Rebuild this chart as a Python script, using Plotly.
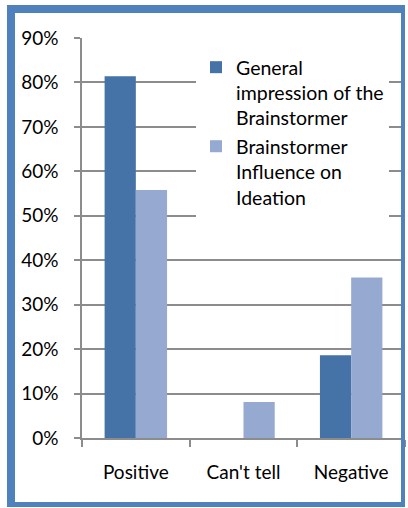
import plotly.graph_objects as go

categories = ["Positive", "Can't tell", "Negative"]
general_impression = [0.814, 0.0, 0.186]
influence_ideation = [0.558, 0.081, 0.361]
series_names = ["General<br>impression of the<br>Brainstormer",
                "Brainstormer<br>Influence on<br>Ideation"]
y_ticks = [0, 0.1, 0.2, 0.3, 0.4, 0.5, 0.6, 0.7, 0.8, 0.9]

W, H = 408, 508
L, R, T, B = 82, 3, 38, 70
PW, PH = W - L - R, H - T - B

def px(x):
    return (x - L) / PW

def py(y):
    return (H - B - y) / PH

FONT = "Lato"
GRID = "#8c8c8c"
BORDER = "#4f81bd"

fig = go.Figure()
fig.add_trace(go.Bar(x=categories, y=general_impression, name=series_names[0],
                     marker=dict(color="#4572a7", line=dict(width=0))))
fig.add_trace(go.Bar(x=categories, y=influence_ideation, name=series_names[1],
                     marker=dict(color="#95a9d1", line=dict(width=0))))

shapes = []
for (x0, y0, x1, y1) in [(7, 5, 15, 507), (7, 5, 405, 13), (401, 5, 405, 507), (7, 502, 405, 507)]:
    shapes.append(dict(type="rect", xref="paper", yref="paper",
                       x0=px(x0), x1=px(x1), y0=py(y0), y1=py(y1),
                       fillcolor=BORDER, line=dict(width=0), layer="above"))

fig.update_layout(
    width=W, height=H,
    margin=dict(l=L, r=R, t=T, b=B, pad=0),
    paper_bgcolor="white", plot_bgcolor="white",
    barmode="group", bargap=0.42, bargroupgap=0,
    font=dict(family=FONT, size=19, color="black"),
    showlegend=True,
    legend=dict(x=px(196), y=py(48), xanchor="left", yanchor="top",
                bgcolor="white", borderwidth=0, valign="top",
                font=dict(family=FONT, size=19.5, color="black"),
                tracegroupgap=0),
    shapes=shapes,
    xaxis=dict(type="category", tickson="boundaries", ticks="outside", ticklen=7,
               tickcolor=GRID, tickwidth=1.5, showline=True, linecolor=GRID,
               linewidth=1.5, showgrid=False, ticklabelstandoff=16,
               tickfont=dict(family=FONT, size=19, color="black")),
    yaxis=dict(range=[0, 0.9], tickvals=y_ticks, tickformat=".0%", ticks="outside",
               ticklen=6, tickcolor=GRID, tickwidth=1.5, showline=True,
               linecolor=GRID, linewidth=1.5, showgrid=True, gridcolor=GRID,
               gridwidth=1.5, zeroline=False, ticklabelstandoff=12,
               tickfont=dict(family=FONT, size=19, color="black")),
)

fig.write_html("out.html")
